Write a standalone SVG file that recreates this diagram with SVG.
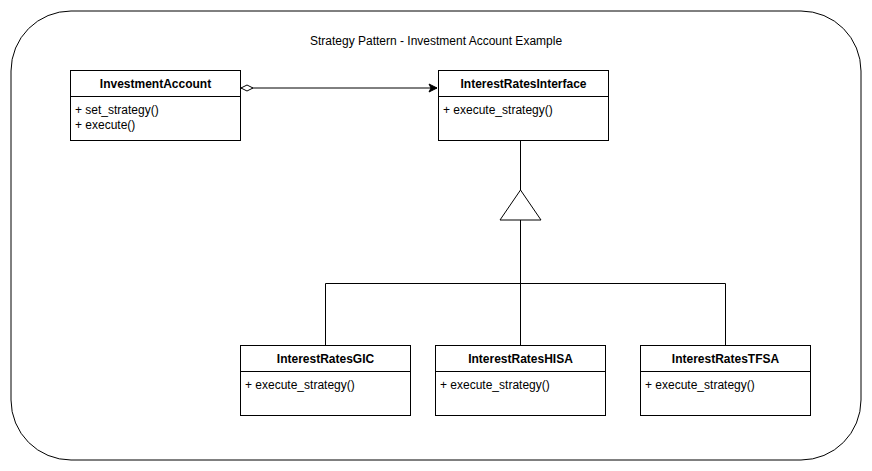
<svg xmlns="http://www.w3.org/2000/svg" width="872" height="471" viewBox="0 0 872 471">
<style>
text{font-family:"Liberation Sans",Arial,sans-serif;font-size:12px;fill:#000}
.h{font-weight:bold;text-anchor:middle}
.box{fill:#fff;stroke:#000;stroke-width:1}
.ln{fill:none;stroke:#000;stroke-width:1}
</style>
<defs>
<marker id="diamond" markerWidth="14" markerHeight="8" refX="1" refY="4" orient="auto" markerUnits="userSpaceOnUse">
<path d="M1,4 L7,1 L13,4 L7,7 Z" fill="#fff" stroke="#000" stroke-width="1"/>
</marker>
<marker id="arrow" markerWidth="10" markerHeight="10" refX="9" refY="5" orient="auto" markerUnits="userSpaceOnUse">
<path d="M1,1 L9,5 L1,9 L3,5 Z" fill="#000" stroke="#000" stroke-width="1"/>
</marker>
</defs>
<rect x="11" y="11" width="850" height="449" rx="60" ry="60" fill="#fff" stroke="#000" stroke-width="1"/>
<text x="436" y="45" text-anchor="middle">Strategy Pattern - Investment Account Example</text>
<g id="connectors">
<path class="ln" d="M241,88 L437,88" marker-start="url(#diamond)" marker-end="url(#arrow)"/>
<path class="ln" d="M520.5,140 L520.5,190"/>
<path d="M520.5,190 L541,220 L500,220 Z" fill="#fff" stroke="#000"/>
<path class="ln" d="M520.5,220 L520.5,345"/>
<path class="ln" d="M325.5,345 L325.5,283.5 L725.5,283.5 L725.5,345"/>
</g>
<g id="InvestmentAccount">
<rect class="box" x="70.5" y="70.5" width="170" height="70"/>
<line class="ln" x1="70.5" y1="96.5" x2="240.5" y2="96.5"/>
<text class="h" x="155.5" y="88">InvestmentAccount</text>
<text x="75" y="114">+ set_strategy()</text>
<text x="75" y="129">+ execute()</text>
</g>
<g id="InterestRatesInterface">
<rect class="box" x="438.5" y="70.5" width="170" height="70"/>
<line class="ln" x1="438.5" y1="96.5" x2="608.5" y2="96.5"/>
<text class="h" x="523.5" y="88">InterestRatesInterface</text>
<text x="443" y="114">+ execute_strategy()</text>
</g>
<g id="InterestRatesGIC">
<rect class="box" x="240.5" y="345.5" width="170" height="70"/>
<line class="ln" x1="240.5" y1="371.5" x2="410.5" y2="371.5"/>
<text class="h" x="325.5" y="363">InterestRatesGIC</text>
<text x="245" y="389">+ execute_strategy()</text>
</g>
<g id="InterestRatesHISA">
<rect class="box" x="435.5" y="345.5" width="170" height="70"/>
<line class="ln" x1="435.5" y1="371.5" x2="605.5" y2="371.5"/>
<text class="h" x="520.5" y="363">InterestRatesHISA</text>
<text x="440" y="389">+ execute_strategy()</text>
</g>
<g id="InterestRatesTFSA">
<rect class="box" x="640.5" y="345.5" width="170" height="70"/>
<line class="ln" x1="640.5" y1="371.5" x2="810.5" y2="371.5"/>
<text class="h" x="725.5" y="363">InterestRatesTFSA</text>
<text x="645" y="389">+ execute_strategy()</text>
</g>
</svg>
